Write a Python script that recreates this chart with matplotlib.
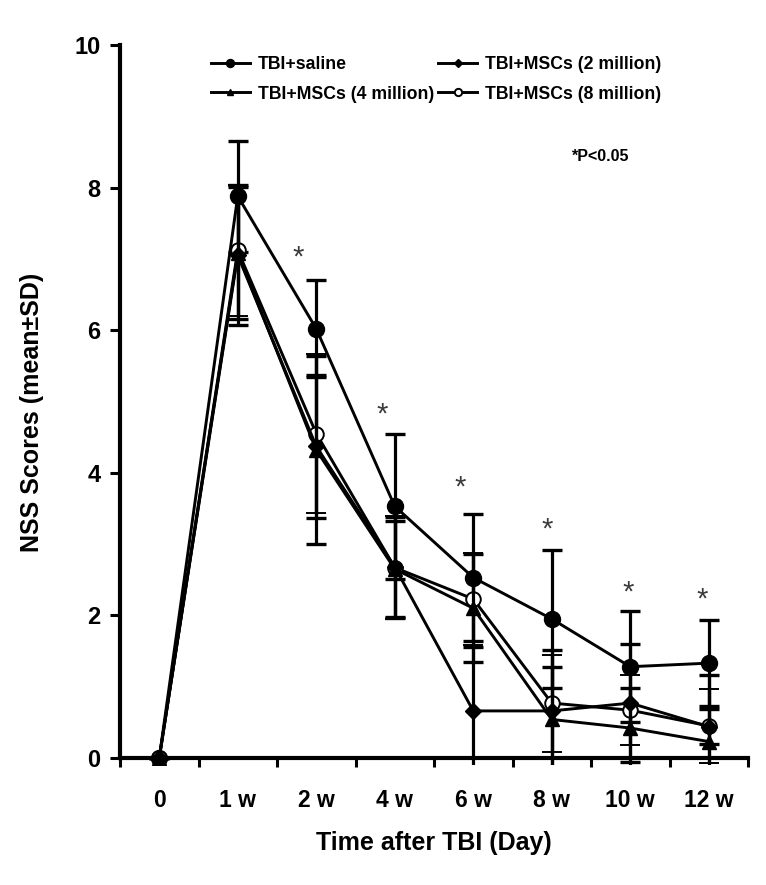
import matplotlib
matplotlib.use('Agg')
import matplotlib.pyplot as plt

plt.rcParams['font.family'] = ['Liberation Sans', 'DejaVu Sans']

# time points
labels = ['0', '1 w', '2 w', '4 w', '6 w', '8 w', '10 w', '12 w']

# NSS scores (mean) and SD per group
saline = [0, 7.88, 6.02, 3.53, 2.53, 1.95, 1.28, 1.33]
saline_sd = [0, 0.78, 0.68, 1.02, 0.89, 0.97, 0.78, 0.60]
msc2 = [0, 7.05, 4.37, 2.68, 0.66, 0.66, 0.77, 0.44]
msc2_sd = [0, 0.98, 1.00, 0.70, 0.90, 0.85, 0.83, 0.25]
msc4 = [0, 7.08, 4.32, 2.65, 2.10, 0.54, 0.42, 0.23]
msc4_sd = [0, 0.93, 1.32, 0.68, 0.76, 0.73, 0.56, 0.94]
msc8 = [0, 7.12, 4.55, 2.67, 2.23, 0.77, 0.67, 0.45]
msc8_sd = [0, 0.92, 1.12, 0.72, 0.64, 0.68, 0.49, 0.52]

# significance marks (x in category units, y in score units)
star_x = [1.77, 2.84, 3.83, 4.94, 5.97, 6.91]
star_y = [7.02, 4.81, 3.79, 3.21, 2.32, 2.22]

x = list(range(len(labels)))

fig = plt.figure(figsize=(7.66, 8.85), dpi=100)
ax = fig.add_axes([120 / 766, (885 - 765.1) / 885, 628 / 766, 720.1 / 885])

common = dict(color='black', ecolor='black', lw=2.1, elinewidth=2.3,
              capsize=7.5, capthick=2.4, mec='black')

h_s = ax.errorbar(x, saline, yerr=saline_sd, fmt='-o', ms=11.5, mfc='black', zorder=3, **common)
h_8 = ax.errorbar(x, msc8, yerr=msc8_sd, fmt='-o', ms=10.5, mfc='white', mew=1.4, zorder=4, **common)
h_4 = ax.errorbar(x, msc4, yerr=msc4_sd, fmt='-^', ms=9.5, mfc='black', zorder=5, **common)
h_2 = ax.errorbar(x, msc2, yerr=msc2_sd, fmt='-D', ms=8.5, mfc='black', zorder=6, **common)

leg = ax.legend([h_s[0], h_4[0], h_2[0], h_8[0]],
                ['TBI+saline', 'TBI+MSCs (4 million)', 'TBI+MSCs (2 million)', 'TBI+MSCs (8 million)'],
                ncol=2, frameon=False, loc='upper left', bbox_to_anchor=(0.125, 1.002),
                prop={'weight': 'bold', 'size': 12.7}, markerscale=0.5,
                handlelength=2.2, handletextpad=0.45, columnspacing=0.25, labelspacing=0.72,
                borderaxespad=0.3)

for sx, sy in zip(star_x, star_y):
    ax.text(sx, sy, '*', ha='center', va='center', fontsize=21, color='#3a3a3a')

ax.text(5.26, 8.43, '*P<0.05', ha='left', va='center', fontsize=11.5, fontweight='bold')

ax.set_xlim(-0.5, 7.5)
ax.set_ylim(-0.1, 10)

for side in ['top', 'right']:
    ax.spines[side].set_visible(False)
ax.spines['bottom'].set_position(('data', 0))
ax.spines['bottom'].set_linewidth(3)
ax.spines['left'].set_linewidth(3)
ax.spines['left'].set_bounds(0, 10)

ax.set_yticks([0, 2, 4, 6, 8, 10])
ax.tick_params(axis='y', direction='out', length=7, width=2.2, pad=7, labelsize=17)
for t in ax.get_yticklabels():
    t.set_fontweight('bold')

ax.set_xticks(x)
ax.set_xticklabels(labels, fontsize=16.5, fontweight='bold')
ax.set_xticks([i - 0.5 for i in range(len(labels) + 1)], minor=True)
ax.tick_params(axis='x', which='major', length=0, pad=22)
ax.tick_params(axis='x', which='minor', direction='out', length=6.5, width=2.2)

ax.set_xlabel('Time after TBI (Day)', fontsize=18, fontweight='bold')
ax.set_ylabel('NSS Scores (mean\u00b1SD)', fontsize=18, fontweight='bold')
ax.xaxis.set_label_coords(0.5, -0.092)
ax.yaxis.set_label_coords(-0.121, 0.49)

fig.savefig('out.png', dpi=100)
